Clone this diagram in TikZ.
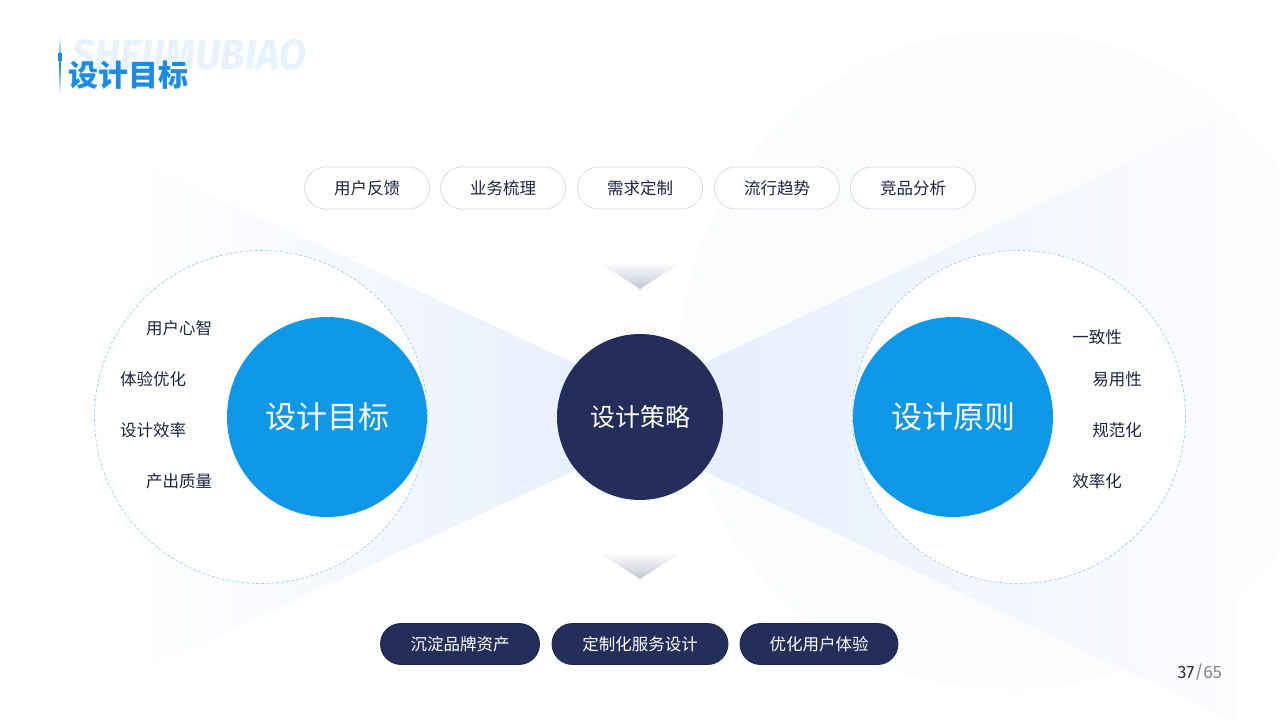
\documentclass[tikz,border=0pt]{standalone}
\usepackage{fontspec}
\setmainfont{Noto Sans CJK SC}
\newfontfamily\latinfont{Fira Sans}
\usetikzlibrary{shapes.misc}
\definecolor{navy}{HTML}{232E5A}
\definecolor{txtnavy}{HTML}{1B2444}
\definecolor{mainblue}{HTML}{0F97E8}
\definecolor{titleblue}{HTML}{1A8CE6}
\definecolor{bgword}{HTML}{E6F2FC}
\definecolor{bowblue}{HTML}{E3ECFC}
\definecolor{dashblue}{HTML}{9CD2F6}
\definecolor{pillgray}{HTML}{D9DCE4}
\definecolor{arrowgray}{HTML}{C3C6D5}
\definecolor{faint}{HTML}{FBFCFE}
\tikzset{
  toppill/.style={draw=pillgray, line width=0.8pt, fill=white, rounded corners=21pt,
    minimum height=42pt, minimum width=125pt, inner sep=0pt, text=txtnavy,
    font=\fontsize{16.5}{16.5}\selectfont},
  botpill/.style={draw=navy!80!black, line width=0.8pt, fill=navy, rounded corners=20.5pt,
    minimum height=41pt, inner sep=0pt, text=white,
    font=\fontsize{16.5}{16.5}\selectfont},
  sidelabel/.style={text=txtnavy, inner sep=0pt, font=\fontsize{16.5}{16.5}\selectfont},
  dashring/.style={draw=dashblue, dashed, dash pattern=on 3pt off 2pt, line width=0.7pt, fill=white, circle, inner sep=0pt, minimum size=333pt},
  bluedisc/.style={fill=mainblue, circle, inner sep=0pt, minimum size=200pt, text=white,
    font=\fontsize{31}{31}\selectfont},
  navydisc/.style={fill=navy, circle, inner sep=0pt, minimum size=166pt, text=white,
    font=\fontsize{25}{25}\selectfont},
  downtri/.style={top color=white, bottom color=arrowgray, draw=none}
}
\begin{document}
\begin{tikzpicture}[x=1pt,y=-1pt]
\useasboundingbox (0,0) rectangle (1280,720);
\fill[white] (0,0) rectangle (1280,720);
\begin{scope}
\clip (0,0) rectangle (1280,720);
% faint background circle
\fill[faint] (1010,360) circle (330);
% bow-tie gradient wings
\shade[left color=white, right color=bowblue] (130,157) -- (690,417) -- (130,677) -- cycle;
\shade[left color=bowblue, right color=faint] (590,417) -- (1235,112) -- (1235,722) -- cycle;
\end{scope}

% title
\node[anchor=west, inner sep=0pt, text=bgword] (bgword) at (72,58)
  {\resizebox{234pt}{30pt}{\latinfont\bfseries\itshape SHEJIMUBIAO}};
\shade[top color=white, bottom color=white, middle color=titleblue] (59.3,36) rectangle (60.7,94);
\fill[titleblue] (58,53) rectangle (62,61);
\node[anchor=west, inner sep=0pt, text=titleblue, font=\fontsize{30}{30}\selectfont\bfseries] (title) at (68,75) {设计目标};

% top pills
\node[toppill] (p1) at (367,188) {用户反馈};
\node[toppill] (p2) at (503,188) {业务梳理};
\node[toppill] (p3) at (640,188) {需求定制};
\node[toppill] (p4) at (777,188) {流行趋势};
\node[toppill] (p5) at (913,188) {竞品分析};

% down arrows
\shade[downtri] (598,262) -- (682,262) -- (640,289) -- cycle;
\shade[downtri] (598,552) -- (682,552) -- (640,579) -- cycle;

% rings
\node[dashring] (ringL) at (261,417) {};
\node[dashring] (ringR) at (1019,417) {};

% discs
\node[bluedisc] (goal) at (327,417) {设计目标};
\node[bluedisc] (principle) at (953,417) {设计原则};
\node[navydisc] (strategy) at (640,417) {设计策略};

% left labels
\node[sidelabel] (l1) at (179,328) {用户心智};
\node[sidelabel] (l2) at (153,379) {体验优化};
\node[sidelabel] (l3) at (153,430) {设计效率};
\node[sidelabel] (l4) at (179,481) {产出质量};

% right labels
\node[sidelabel] (r1) at (1097,337) {一致性};
\node[sidelabel] (r2) at (1117,379) {易用性};
\node[sidelabel] (r3) at (1117,430) {规范化};
\node[sidelabel] (r4) at (1097,481) {效率化};

% bottom pills
\node[botpill, minimum width=159pt] (b1) at (460,644) {沉淀品牌资产};
\node[botpill, minimum width=176pt] (b2) at (640,644) {定制化服务设计};
\node[botpill, minimum width=158pt] (b3) at (819,644) {优化用户体验};

% page number
\node[anchor=east, inner sep=0pt, font=\latinfont\fontsize{18}{18}\selectfont] (page) at (1222,672)
  {\textcolor[HTML]{333333}{37}\textcolor[HTML]{8A8A8A}{/65}};
\end{tikzpicture}
\end{document}
